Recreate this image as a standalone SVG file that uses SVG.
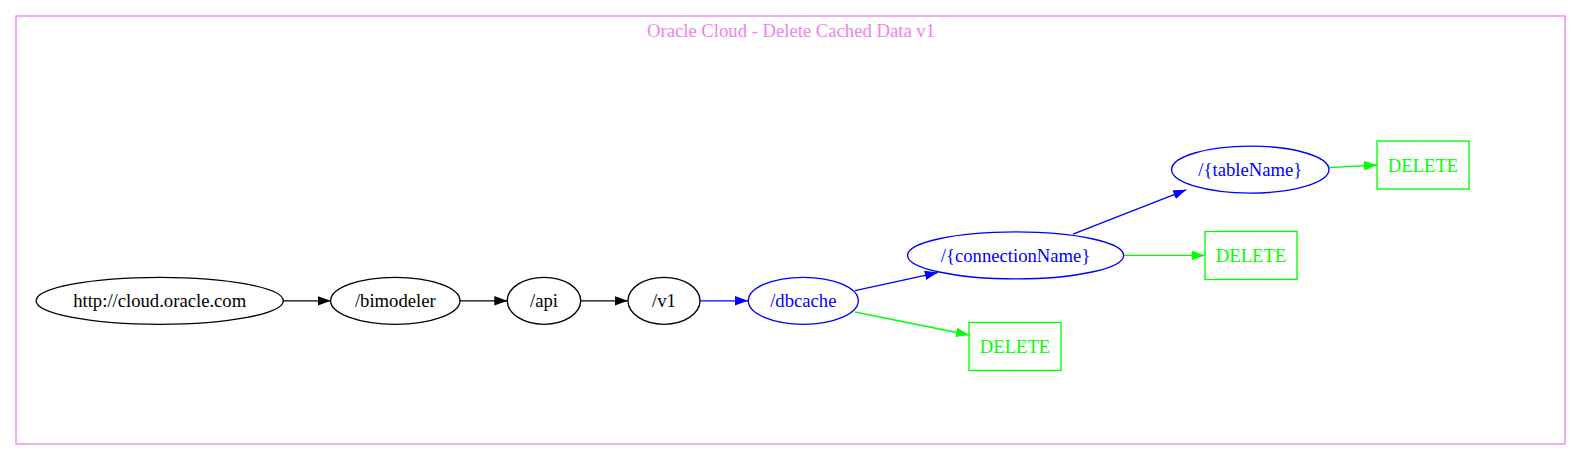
<svg xmlns="http://www.w3.org/2000/svg" width="1581" height="461" viewBox="0 0 1581 461">
<style>
text{font-family:"Liberation Serif","Times New Roman",serif;font-size:18.67px;text-anchor:middle;dominant-baseline:central}
.k ellipse{fill:none;stroke:#000;stroke-width:1.35}
.k text{fill:#000}
.b ellipse{fill:none;stroke:#0000ff;stroke-width:1.35}
.b text{fill:#0000ff}
.g rect{fill:none;stroke:#00ff00;stroke-width:1.35}
.g text{fill:#00ff00}
.ek{stroke:#000;stroke-width:1.35;fill:none}
.eb{stroke:#0000ff;stroke-width:1.35;fill:none}
.eg{stroke:#00ff00;stroke-width:1.35;fill:none}
</style>
<defs>
<marker id="ak" viewBox="0 0 13 10" refX="13" refY="5" markerWidth="13" markerHeight="10" markerUnits="userSpaceOnUse" orient="auto"><path d="M0,0.3L13,5L0,9.7z" fill="#000"/></marker>
<marker id="ab" viewBox="0 0 13 10" refX="13" refY="5" markerWidth="13" markerHeight="10" markerUnits="userSpaceOnUse" orient="auto"><path d="M0,0.3L13,5L0,9.7z" fill="#0000ff"/></marker>
<marker id="ag" viewBox="0 0 13 10" refX="13" refY="5" markerWidth="13" markerHeight="10" markerUnits="userSpaceOnUse" orient="auto"><path d="M0,0.3L13,5L0,9.7z" fill="#00ff00"/></marker>
</defs>
<rect width="1581" height="461" fill="#fff"/>
<g id="cluster">
<rect x="16" y="16" width="1549" height="428" fill="none" stroke="#ee82ee" stroke-width="1.35"/>
<text x="791" y="30" fill="#ee82ee">Oracle Cloud - Delete Cached Data v1</text>
</g>
<g id="edges">
<path class="ek" d="M283.3,300.8L330.7,300.8" marker-end="url(#ak)"/>
<path class="ek" d="M460,300.8L507.3,300.8" marker-end="url(#ak)"/>
<path class="ek" d="M580.7,300.8L627.7,300.8" marker-end="url(#ak)"/>
<path class="eb" d="M700,300.8L748,300.8" marker-end="url(#ab)"/>
<path class="eb" d="M855,290.7L937.8,272.6" marker-end="url(#ab)"/>
<path class="eb" d="M1073,234.2L1186.2,189.8" marker-end="url(#ab)"/>
<path class="eg" d="M1329,167.7L1377,165" marker-end="url(#ag)"/>
<path class="eg" d="M1123.6,255.4L1205,255.4" marker-end="url(#ag)"/>
<path class="eg" d="M855,312L969,335" marker-end="url(#ag)"/>
</g>
<g id="n_root" class="k"><ellipse cx="159.7" cy="300.8" rx="123.6" ry="23.5"/><text x="159.7" y="300.8">http://cloud.oracle.com</text></g>
<g id="n_bimodeler" class="k"><ellipse cx="395.3" cy="300.8" rx="64.7" ry="23.5"/><text x="395.3" y="300.8">/bimodeler</text></g>
<g id="n_api" class="k"><ellipse cx="544" cy="300.8" rx="36.7" ry="23.5"/><text x="544" y="300.8">/api</text></g>
<g id="n_v1" class="k"><ellipse cx="664" cy="300.8" rx="36" ry="23.5"/><text x="664" y="300.8">/v1</text></g>
<g id="n_dbcache" class="b"><ellipse cx="803.3" cy="300.8" rx="55" ry="23.5"/><text x="803.3" y="300.8">/dbcache</text></g>
<g id="n_connection" class="b"><ellipse cx="1015.6" cy="255.4" rx="108" ry="23.5"/><text x="1015.6" y="255.4">/{connectionName}</text></g>
<g id="n_table" class="b"><ellipse cx="1250.3" cy="169.6" rx="78.7" ry="23.5"/><text x="1250.3" y="169.6">/{tableName}</text></g>
<g id="n_del_table" class="g"><rect x="1377" y="141" width="92" height="48"/><text x="1423" y="165">DELETE</text></g>
<g id="n_del_conn" class="g"><rect x="1205" y="231.5" width="92" height="48"/><text x="1251" y="255.5">DELETE</text></g>
<g id="n_del_dbcache" class="g"><rect x="969" y="322.5" width="92" height="48"/><text x="1015" y="346.5">DELETE</text></g>
</svg>
